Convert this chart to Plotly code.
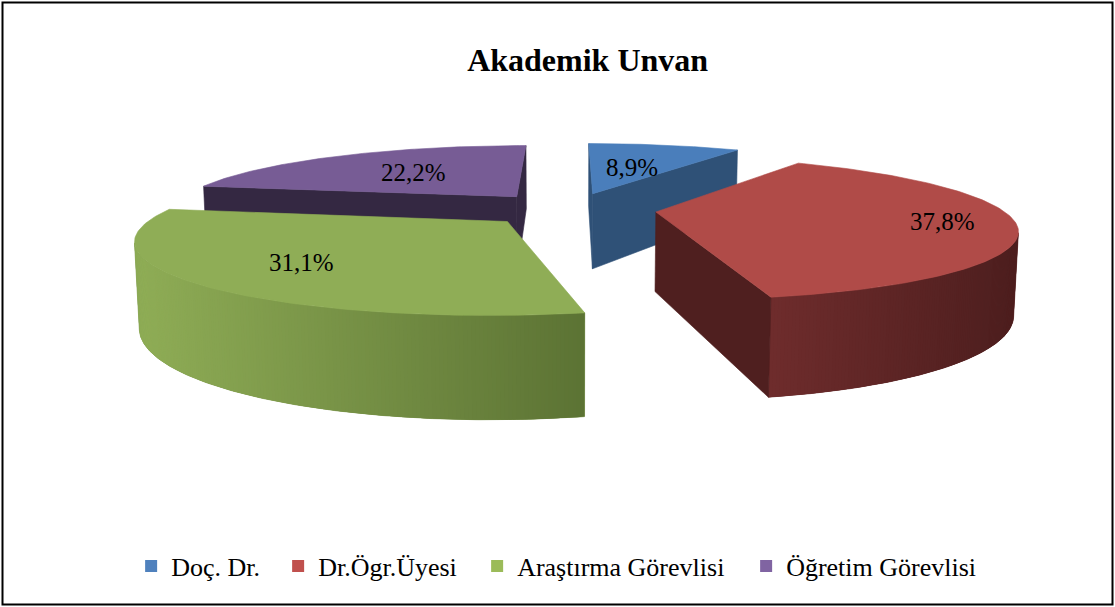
import math
import numpy as np
import plotly.graph_objects as go

# ---------------- data ----------------
categories = ["Doç. Dr.", "Dr.Ögr.Üyesi", "Araştırma Görevlisi", "Öğretim Görevlisi"]
percentages = [8.9, 37.8, 31.1, 22.2]
value_labels = ["8,9%", "37,8%", "31,1%", "22,2%"]

# ---------------- style ----------------
legend_colors = ["#4f81bd", "#c0504d", "#9bbb59", "#8064a2"]
top_colors = ["#4a7ebb", "#b04b48", "#8fad56", "#775c95"]
cut_colors = ["#2f5177", "#4f1f1f", "#5e7535", "#342842"]
wall_left = ["#3d6796", "#6e2c2c", "#8fad56", "#5e4878"]
wall_right = ["#2c4c70", "#4d1e1e", "#5c7334", "#3f3052"]
label_r = [0.5, 0.8, 0.7, 0.55]
legend_widths = [102, 154, 224, 205]
FONT = "Liberation Serif, Times New Roman, serif"

W, H = 1115, 607
CX, CY = 570.0, 209.0
DIST = 4.5
FOC = 1555.0
SIN_P = 0.194
COS_P = math.sqrt(1 - SIN_P ** 2)
EXPLODE = 0.25
THICK = 0.235
CAM = np.array([0.0, DIST * SIN_P, -DIST * COS_P])


def proj(p):
    x, y, z = p
    zc = DIST + z * COS_P - y * SIN_P
    return CX + FOC * x / zc, CY - FOC * (y * COS_P + z * SIN_P) / zc


def depth(p):
    x, y, z = p
    return DIST + z * COS_P - y * SIN_P


def hex2rgb(h):
    h = h.lstrip("#")
    return np.array([int(h[i:i + 2], 16) for i in (0, 2, 4)], dtype=float)


def mix(c1, c2, t):
    a, b = hex2rgb(c1), hex2rgb(c2)
    c = a + (b - a) * t
    return "rgb(%d,%d,%d)" % tuple(int(round(v)) for v in c)


fracs = np.array(percentages) / sum(percentages)
ends = np.cumsum(fracs) * 2 * math.pi
starts = ends - fracs * 2 * math.pi

fig = go.Figure()
annotations = []

bis = (starts + ends) / 2
order = sorted(range(len(categories)), key=lambda i: -EXPLODE * math.cos(bis[i]))

for i in order:
    a0, a1, b = starts[i], ends[i], bis[i]
    ox, oz = EXPLODE * math.sin(b), EXPLODE * math.cos(b)

    def P(r, th, y):
        return np.array([ox + r * math.sin(th), y, oz + r * math.cos(th)])

    faces = []
    # radial cut faces
    for th, nang in [(a0, a0 - math.pi / 2), (a1, a1 + math.pi / 2)]:
        pts = [P(0, th, 0), P(1, th, 0), P(1, th, -THICK), P(0, th, -THICK)]
        n = np.array([math.sin(nang), 0, math.cos(nang)])
        c = np.mean(pts, axis=0)
        if np.dot(CAM - c, n) > 0:
            faces.append((depth(c), pts, cut_colors[i], 0.6))
    # outer wall, split in thin strips for the shading gradient
    nseg = max(8, 2 * int(math.degrees(a1 - a0)))
    ths = np.linspace(a0, a1, nseg + 1)
    vis = []
    for k in range(nseg):
        tm = (ths[k] + ths[k + 1]) / 2
        n = np.array([math.sin(tm), 0, math.cos(tm)])
        c = P(1, tm, -THICK / 2)
        if np.dot(CAM - c, n) > 0:
            vis.append(k)
    if vis:
        k0, k1 = min(vis), max(vis) + 1
        sxs = [proj(P(1, (ths[k] + ths[k + 1]) / 2, 0))[0] for k in vis]
        lo, hi = min(sxs), max(sxs)
        arcw = ths[k0:k1 + 1]
        base = [P(1, t, 0) for t in arcw] + [P(1, t, -THICK) for t in arcw[::-1]]
        faces.append((99, base, mix(wall_left[i], wall_right[i], 0.5), 0.6))
        for k, sx in zip(vis, sxs):
            t = 0 if hi == lo else (sx - lo) / (hi - lo)
            ke = min(k + 2, k1)
            seg = ths[k:ke + 1]
            pts = [P(1, q, 0) for q in seg] + [P(1, q, -THICK) for q in seg[::-1]]
            faces.append((98 - k * 1e-4, pts, mix(wall_left[i], wall_right[i], t), 0))
    faces.sort(key=lambda f: -f[0])
    # top face last
    arc = np.linspace(a0, a1, 120)
    top = [P(0, a0, 0)] + [P(1, th, 0) for th in arc]
    faces.append((0, top, top_colors[i], 0.6))

    for _, pts, col, lw in faces:
        xy = [proj(p) for p in pts]
        xs = [q[0] for q in xy] + [xy[0][0]]
        ys = [q[1] for q in xy] + [xy[0][1]]
        fig.add_trace(go.Scatter(
            x=xs, y=ys, mode="lines", fill="toself", fillcolor=col,
            line=dict(color=col, width=lw), hoverinfo="skip", showlegend=False))

    lx, ly = proj(P(label_r[i], b, 0))
    annotations.append(dict(x=lx, y=ly, xref="x", yref="y", text=value_labels[i],
                            showarrow=False, font=dict(family=FONT, size=25, color="black")))

for name, col, lwid in zip(categories, legend_colors, legend_widths):
    fig.add_trace(go.Scatter(x=[None], y=[None], mode="markers", name=name,
                             legendwidth=lwid,
                             marker=dict(symbol="square", size=12, color=col)))

fig.update_layout(
    width=W, height=H,
    margin=dict(l=0, r=0, t=0, b=0),
    paper_bgcolor="white", plot_bgcolor="white",
    xaxis=dict(range=[0, W], visible=False, fixedrange=True),
    yaxis=dict(range=[H, 0], visible=False, fixedrange=True),
    title=dict(text="<b>Akademik Unvan</b>", x=0.527, y=1 - 60 / H,
               xanchor="center", yanchor="middle",
               font=dict(family=FONT, size=32, color="black")),
    legend=dict(orientation="h", x=0.5055, xanchor="center", y=1 - 566 / H, yanchor="middle",
                font=dict(family=FONT, size=26, color="black"), itemclick=False,
                bgcolor="rgba(0,0,0,0)"),
    annotations=annotations,
    shapes=[dict(type="rect", xref="paper", yref="paper",
                 x0=2.5 / W, x1=1 - 2.5 / W, y0=2.5 / H, y1=1 - 2.5 / H,
                 line=dict(color="black", width=2), fillcolor="rgba(0,0,0,0)")],
)

fig.write_html("out.html", config={"displayModeBar": False},
               post_script="document.body.style.margin='0px';")
